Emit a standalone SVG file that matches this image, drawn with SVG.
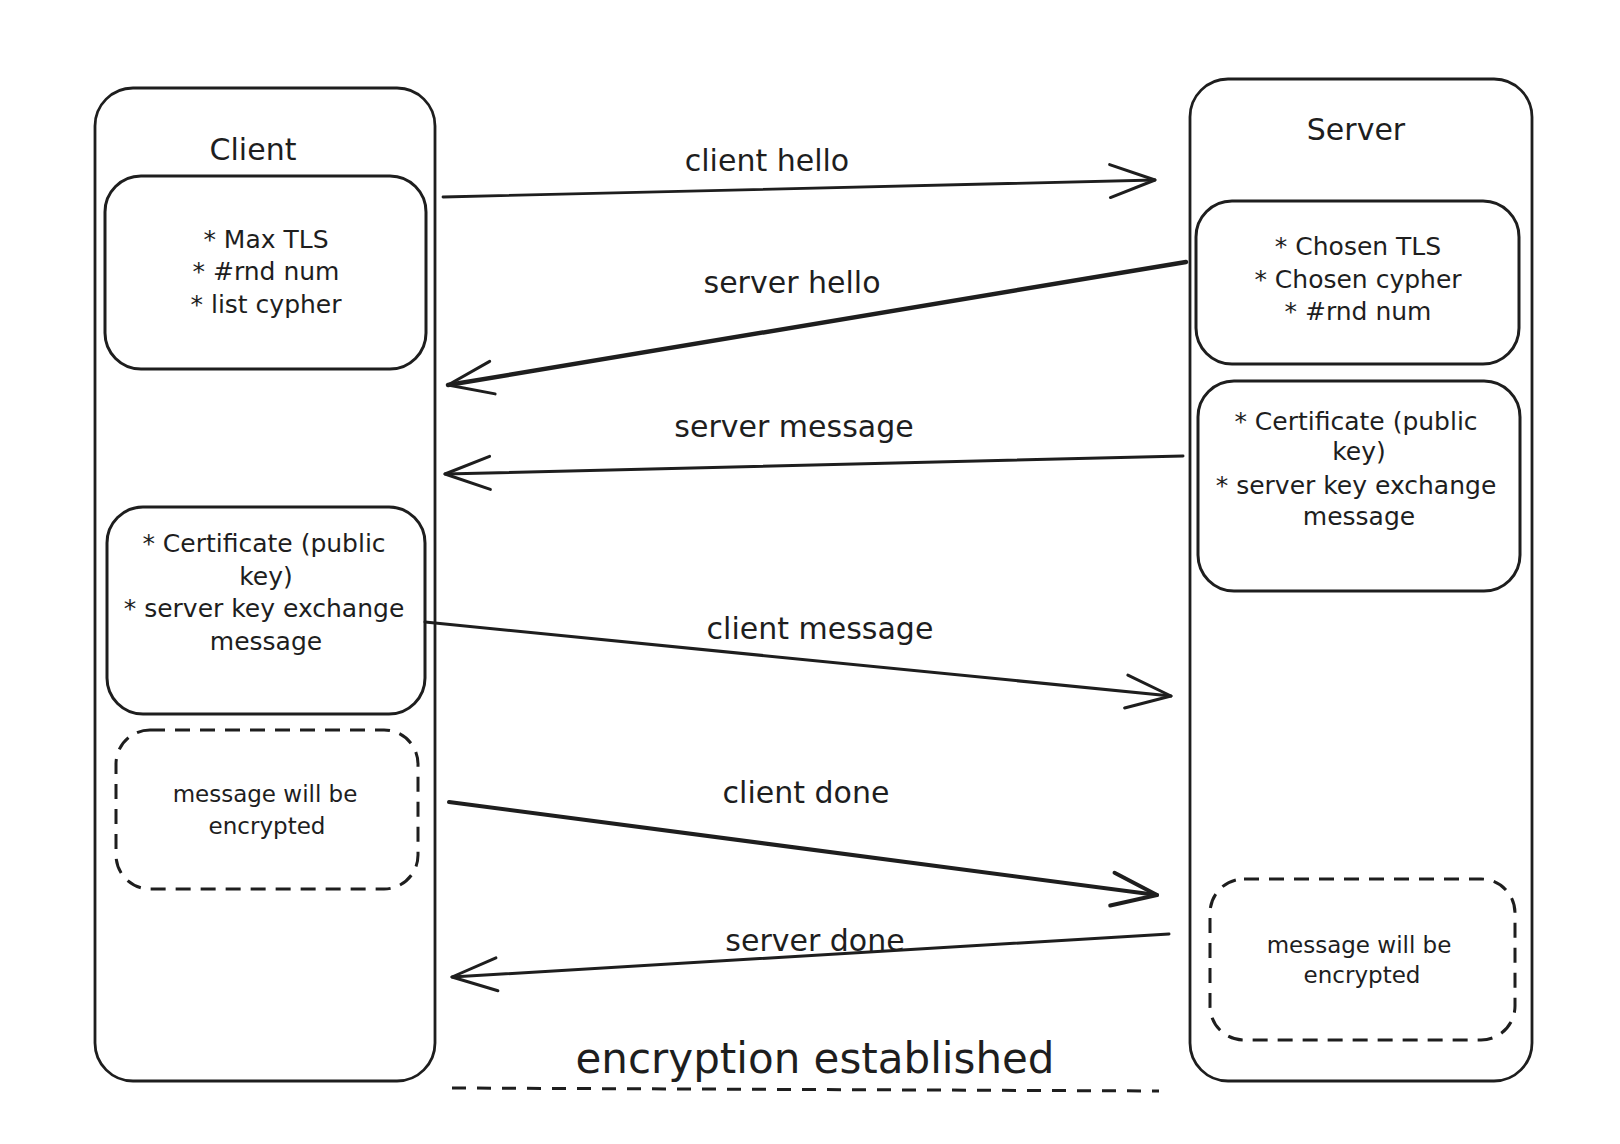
<svg xmlns="http://www.w3.org/2000/svg" width="1620" height="1144" viewBox="0 0 1620 1144">
<style>
  .box { fill: none; stroke: #1e1e1e; stroke-width: 3; }
  .outer { fill: none; stroke: #1e1e1e; stroke-width: 2.8; }
  .dash { fill: none; stroke: #1e1e1e; stroke-width: 3; stroke-dasharray: 15 10; }
  .edge { fill: none; stroke: #1e1e1e; stroke-linecap: round; }
  text { font-family: "DejaVu Sans", "Liberation Sans", sans-serif; fill: #1e1e1e; text-anchor: middle; }
  .title { font-size: 30px; }
  .body { font-size: 25px; }
  .small { font-size: 23px; }
  .lbl { font-size: 30px; }
  .big { font-size: 42px; }
</style>
<defs>
  <marker id="head" markerUnits="userSpaceOnUse" markerWidth="60" markerHeight="40" refX="0" refY="0" viewBox="-52 -20 56 40" orient="auto" overflow="visible">
    <path d="M-45,-16.5 L0,0 L-45,16.5" fill="none" stroke="#1e1e1e" stroke-width="3" stroke-linecap="round" stroke-linejoin="round"/>
  </marker>
  <marker id="headBold" markerUnits="userSpaceOnUse" markerWidth="60" markerHeight="40" refX="0" refY="0" viewBox="-52 -20 56 40" orient="auto" overflow="visible">
    <path d="M-45,-16.5 L0,0 L-45,16.5" fill="none" stroke="#1e1e1e" stroke-width="4" stroke-linecap="round" stroke-linejoin="round"/>
  </marker>
</defs>
<rect x="0" y="0" width="1620" height="1144" fill="#ffffff"/>

<g id="client">
  <rect class="outer" x="95" y="88" width="340" height="993" rx="38"/>
  <text class="title" x="253" y="160">Client</text>
</g>
<g id="client-hello-box">
  <rect class="box" x="105" y="176" width="321" height="193" rx="36"/>
  <text class="body" x="266" y="248">* Max TLS</text>
  <text class="body" x="266" y="280">* #rnd num</text>
  <text class="body" x="266" y="313">* list cypher</text>
</g>
<g id="client-cert-box">
  <rect class="box" x="107" y="507" width="318" height="207" rx="36"/>
  <text class="body" x="264" y="552">* Certificate (public</text>
  <text class="body" x="266" y="585">key)</text>
  <text class="body" x="264" y="617">* server key exchange</text>
  <text class="body" x="266" y="650">message</text>
</g>
<g id="client-encrypted">
  <rect class="dash" x="116" y="730" width="302" height="159" rx="34"/>
  <text class="small" x="265" y="802">message will be</text>
  <text class="small" x="267" y="834">encrypted</text>
</g>

<g id="server">
  <rect class="outer" x="1190" y="79" width="342" height="1002" rx="38"/>
  <text class="title" x="1356" y="140">Server</text>
</g>
<g id="server-hello-box">
  <rect class="box" x="1196" y="201" width="323" height="163" rx="36"/>
  <text class="body" x="1358" y="255">* Chosen TLS</text>
  <text class="body" x="1358" y="288">* Chosen cypher</text>
  <text class="body" x="1358" y="320">* #rnd num</text>
</g>
<g id="server-cert-box">
  <rect class="box" x="1198" y="381" width="322" height="210" rx="36"/>
  <text class="body" x="1356" y="430">* Certificate (public</text>
  <text class="body" x="1359" y="460">key)</text>
  <text class="body" x="1356" y="494">* server key exchange</text>
  <text class="body" x="1359" y="525">message</text>
</g>
<g id="server-encrypted">
  <rect class="dash" x="1210" y="879" width="305" height="161" rx="34"/>
  <text class="small" x="1359" y="953">message will be</text>
  <text class="small" x="1362" y="983">encrypted</text>
</g>

<g id="connectors">
  <path class="edge" d="M443,197 L1155,180" stroke-width="2.8" marker-end="url(#head)"/>
  <path class="edge" d="M1186,262 L448,385" stroke-width="4.5" marker-end="url(#head)"/>
  <path class="edge" d="M1183,456 L445,474" stroke-width="3" marker-end="url(#head)"/>
  <path class="edge" d="M425,622 L1171,696" stroke-width="3" marker-end="url(#head)"/>
  <path class="edge" d="M449,802 L1157,895" stroke-width="4" marker-end="url(#headBold)"/>
  <path class="edge" d="M1169,934 L452,977" stroke-width="3" marker-end="url(#head)"/>
  <path d="M452,1088 L1159,1091" fill="none" stroke="#1e1e1e" stroke-width="3" stroke-dasharray="14 11"/>
</g>

<g id="labels">
  <text class="lbl" x="767" y="171">client hello</text>
  <text class="lbl" x="792" y="293">server hello</text>
  <text class="lbl" x="794" y="437">server message</text>
  <text class="lbl" x="820" y="639">client message</text>
  <text class="lbl" x="806" y="803">client done</text>
  <text class="lbl" x="815" y="951">server done</text>
  <text class="big" x="815" y="1073">encryption established</text>
</g>
</svg>
